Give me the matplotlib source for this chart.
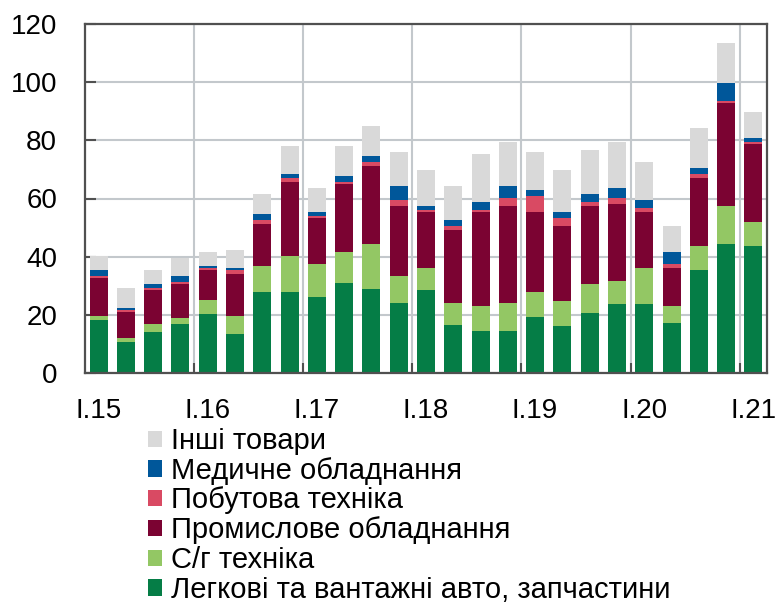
import matplotlib
matplotlib.use("Agg")
import matplotlib.pyplot as plt
import numpy as np

plt.rcParams["font.family"] = ["Liberation Sans", "DejaVu Sans"]

quarters = ["I.15", "II.15", "III.15", "IV.15", "I.16", "II.16", "III.16", "IV.16",
            "I.17", "II.17", "III.17", "IV.17", "I.18", "II.18", "III.18", "IV.18",
            "I.19", "II.19", "III.19", "IV.19", "I.20", "II.20", "III.20", "IV.20", "I.21"]

cars = [18.1, 10.5, 14.0, 16.7, 20.2, 13.3, 27.8, 27.7, 26.3, 31.1, 29.0, 24.2, 28.4,
        16.6, 14.6, 14.6, 19.4, 16.0, 20.8, 23.6, 23.6, 17.3, 35.3, 44.3, 43.6]
agri = [1.4, 1.4, 2.7, 2.1, 4.8, 6.2, 9.0, 12.4, 11.1, 10.4, 15.3, 9.0, 7.6,
        7.6, 8.3, 9.6, 8.3, 8.9, 9.7, 8.2, 12.4, 5.6, 8.3, 13.1, 8.3]
industrial = [13.1, 9.0, 11.8, 11.8, 10.4, 14.5, 14.5, 25.6, 16.0, 23.5, 26.9, 24.2, 19.4,
              24.9, 32.5, 33.2, 27.7, 25.6, 26.9, 26.3, 19.4, 13.1, 23.5, 35.3, 26.9]
household = [0.7, 0.7, 0.7, 0.7, 0.7, 1.4, 1.4, 1.4, 0.7, 0.7, 1.4, 2.1, 0.6,
             1.4, 0.6, 2.8, 5.5, 2.8, 1.4, 2.1, 1.3, 1.4, 1.3, 0.7, 0.7]
medical = [2.1, 0.7, 1.4, 2.0, 0.7, 0.7, 2.0, 1.3, 1.3, 2.1, 2.1, 4.8, 1.4,
           2.1, 2.8, 4.1, 2.1, 2.1, 2.8, 3.4, 2.8, 4.1, 2.1, 6.2, 1.4]
other = [4.7, 6.9, 4.8, 6.2, 4.8, 6.2, 6.9, 9.7, 8.2, 10.3, 10.3, 11.7, 12.4,
         11.7, 16.6, 15.2, 13.0, 14.4, 15.1, 15.9, 13.1, 9.0, 13.8, 13.8, 9.0]

series = [
    ("Легкові та вантажні авто, запчастини", cars, "#057d46"),
    ("С/г техніка", agri, "#93c764"),
    ("Промислове обладнання", industrial, "#7b0332"),
    ("Побутова техніка", household, "#d94a63"),
    ("Медичне обладнання", medical, "#00579a"),
    ("Інші товари", other, "#d9d9d9"),
]

fig = plt.figure(figsize=(7.75, 6.07), dpi=100)
ax = fig.add_axes([85 / 775, 1 - 373 / 607, 682 / 775, 349 / 607])

x = np.arange(len(quarters))
bottom = np.zeros(len(quarters))
handles = []
for name, vals, col in series:
    b = ax.bar(x, vals, bottom=bottom, width=0.66, color=col, label=name, zorder=3)
    handles.append(b)
    bottom += np.array(vals)

ax.set_xlim(-0.5, len(quarters) - 0.5)
ax.set_ylim(0, 120)
ax.set_yticks(range(0, 121, 20))
ax.set_xticks(x[::4])
ax.set_xticklabels(quarters[::4])
ax.set_xticks(np.arange(3.5, len(quarters) - 1, 4), minor=True)

axcol = "#505050"
gridcol = "#c3c8cc"
for s in ax.spines.values():
    s.set_color(axcol)
    s.set_linewidth(1.6)
    s.set_zorder(4)
ax.tick_params(axis="y", direction="in", length=8, width=1.5, color=axcol,
               labelsize=20, pad=20)
ax.tick_params(axis="x", which="major", length=0, labelsize=20, pad=18)
ax.tick_params(axis="x", which="minor", direction="in", length=7, width=1.5, color=axcol)
ax.yaxis.grid(True, color=gridcol, linewidth=1.5, zorder=1)
ax.xaxis.grid(True, which="minor", color=gridcol, linewidth=1.5, zorder=1)

fig.legend(handles[::-1], [s[0] for s in series[::-1]], loc="upper left",
           bbox_to_anchor=(148 / 775, 1 - 427 / 607), frameon=False, fontsize=21,
           handlelength=0.48, handleheight=0.48, handletextpad=0.3,
           labelspacing=0.06, borderpad=0, borderaxespad=0)

fig.savefig("out.png", dpi=100, facecolor="white")
